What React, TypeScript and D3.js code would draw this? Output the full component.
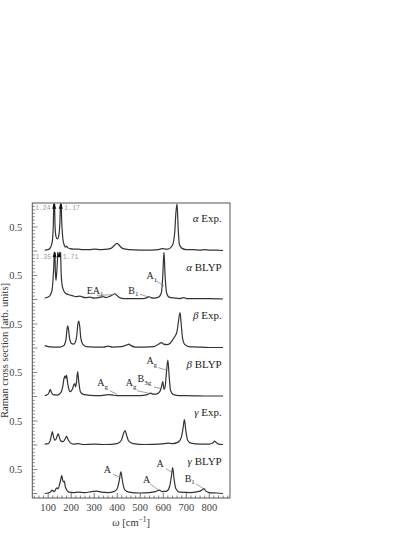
import React from "react";
import * as d3 from "d3";

type Pt = [number, number];

const panelNames = ["α|Exp.", "α|BLYP", "β|Exp.", "β|BLYP", "γ|Exp.", "γ|BLYP"];

const alphaExp: Pt[] = [
  [85, 0.02], [100, 0.03], [110, 0.07], [118, 0.2], [122, 0.5], [126, 1.24], [130, 0.5], [134, 0.3],
  [140, 0.25], [146, 0.32], [151, 0.6], [155, 1.17], [159, 0.6], [164, 0.25], [170, 0.12], [176, 0.08],
  [180, 0.1], [185, 0.07], [195, 0.05], [210, 0.04], [230, 0.04], [250, 0.03], [280, 0.03], [300, 0.04],
  [330, 0.03], [360, 0.04], [375, 0.06], [388, 0.12], [400, 0.16], [410, 0.11], [425, 0.05], [450, 0.03],
  [500, 0.02], [550, 0.02], [580, 0.03], [595, 0.05], [600, 0.05], [605, 0.04], [620, 0.04], [640, 0.12],
  [650, 0.4], [655, 0.8], [660, 0.98], [665, 0.45], [670, 0.14], [680, 0.06], [700, 0.03], [730, 0.03],
  [760, 0.02], [780, 0.03], [800, 0.02], [830, 0.02], [860, 0.01],
];

const alphaBlyp: Pt[] = [
  [85, 0.03], [100, 0.05], [110, 0.1], [117, 0.2], [122, 0.5], [126, 0.9], [128, 1.35], [131, 0.6],
  [134, 0.4], [137, 0.55], [141, 0.9], [144, 1.5], [148, 1.71], [150, 1.6], [153, 1.2], [156, 0.6],
  [160, 0.32], [166, 0.2], [175, 0.13], [190, 0.1], [205, 0.08], [220, 0.06], [238, 0.07], [250, 0.05],
  [265, 0.04], [280, 0.05], [300, 0.03], [320, 0.04], [339, 0.06], [350, 0.04], [370, 0.07], [385, 0.11],
  [391, 0.12], [397, 0.09], [410, 0.04], [430, 0.02], [470, 0.02], [510, 0.02], [530, 0.04], [538, 0.06],
  [546, 0.04], [560, 0.03], [580, 0.05], [592, 0.15], [598, 0.5], [603, 1.0], [608, 0.5], [614, 0.15],
  [625, 0.05], [650, 0.03], [670, 0.02], [690, 0.04], [700, 0.02], [750, 0.02], [800, 0.02], [860, 0.01],
];

const betaExp: Pt[] = [
  [85, 0.05], [100, 0.03], [120, 0.02], [150, 0.02], [165, 0.04], [172, 0.08], [178, 0.2], [182, 0.4],
  [185, 0.46], [188, 0.4], [193, 0.2], [200, 0.1], [210, 0.08], [218, 0.12], [224, 0.25], [229, 0.5],
  [233, 0.56], [237, 0.45], [242, 0.2], [250, 0.08], [265, 0.03], [300, 0.02], [340, 0.02], [361, 0.04],
  [380, 0.02], [420, 0.03], [440, 0.06], [450, 0.08], [460, 0.05], [480, 0.02], [520, 0.02], [560, 0.03],
  [580, 0.08], [592, 0.11], [602, 0.08], [615, 0.07], [630, 0.1], [645, 0.2], [652, 0.25], [660, 0.35],
  [666, 0.55], [673, 0.74], [678, 0.5], [684, 0.2], [692, 0.08], [710, 0.03], [750, 0.02], [800, 0.01],
  [860, 0.01],
];

const betaBlyp: Pt[] = [
  [85, 0.02], [100, 0.05], [105, 0.1], [109, 0.15], [113, 0.1], [120, 0.04], [140, 0.03], [155, 0.08],
  [163, 0.2], [169, 0.38], [173, 0.43], [176, 0.38], [180, 0.44], [184, 0.3], [190, 0.15], [195, 0.1],
  [205, 0.15], [211, 0.24], [215, 0.27], [219, 0.2], [223, 0.3], [228, 0.52], [233, 0.3], [240, 0.1],
  [250, 0.05], [270, 0.03], [300, 0.02], [330, 0.02], [361, 0.04], [380, 0.03], [400, 0.02], [440, 0.02],
  [500, 0.02], [530, 0.04], [545, 0.07], [555, 0.05], [570, 0.05], [585, 0.1], [592, 0.2], [598, 0.31],
  [603, 0.15], [608, 0.2], [613, 0.45], [620, 0.76], [626, 0.4], [632, 0.12], [645, 0.04], [670, 0.02],
  [700, 0.02], [800, 0.01], [860, 0.01],
];

const gammaExp: Pt[] = [
  [85, 0.02], [100, 0.03], [108, 0.08], [114, 0.2], [118, 0.28], [122, 0.2], [128, 0.1], [134, 0.12],
  [140, 0.2], [144, 0.23], [148, 0.17], [155, 0.08], [165, 0.07], [173, 0.12], [180, 0.18], [186, 0.12],
  [195, 0.05], [210, 0.02], [231, 0.03], [250, 0.01], [300, 0.02], [350, 0.01], [400, 0.03], [418, 0.1],
  [426, 0.22], [434, 0.3], [441, 0.2], [450, 0.08], [470, 0.03], [520, 0.01], [580, 0.02], [605, 0.03],
  [622, 0.04], [640, 0.03], [665, 0.06], [678, 0.15], [686, 0.35], [692, 0.53], [698, 0.3], [706, 0.1],
  [720, 0.04], [760, 0.02], [800, 0.02], [815, 0.04], [823, 0.08], [830, 0.05], [840, 0.02], [860, 0.01],
];

const gammaBlyp: Pt[] = [
  [85, 0.0], [100, 0.01], [110, 0.03], [118, 0.07], [124, 0.04], [130, 0.06], [137, 0.12], [143, 0.1],
  [150, 0.2], [155, 0.3], [159, 0.38], [163, 0.28], [167, 0.24], [170, 0.26], [174, 0.15], [180, 0.08],
  [190, 0.03], [210, 0.02], [230, 0.03], [260, 0.02], [290, 0.04], [311, 0.05], [330, 0.03], [360, 0.02],
  [385, 0.04], [400, 0.1], [408, 0.25], [416, 0.45], [423, 0.25], [432, 0.08], [450, 0.03], [500, 0.01],
  [540, 0.02], [565, 0.04], [583, 0.07], [595, 0.04], [615, 0.05], [628, 0.15], [635, 0.35], [641, 0.54],
  [647, 0.3], [655, 0.1], [670, 0.03], [720, 0.02], [760, 0.05], [770, 0.08], [777, 0.1], [785, 0.05],
  [800, 0.02], [830, 0.01], [860, 0.0],
];

const seriesList: Pt[][] = [alphaExp, alphaBlyp, betaExp, betaBlyp, gammaExp, gammaBlyp];

const xTickValues = [100, 200, 300, 400, 500, 600, 700, 800];

// clipped-peak markers: panel, x (cm^-1), true value, label side
const clippedPeaks = [
  { panel: 0, x: 126, value: "1.24", side: "left" },
  { panel: 0, x: 155, value: "1.17", side: "right" },
  { panel: 1, x: 128, value: "1.35", side: "left" },
  { panel: 1, x: 148, value: "1.71", side: "right" },
];

// mode annotations: text, subscript, text position, leader from/to (data units)
const modeLabels = [
  { panel: 1, main: "A", sub: "1", tx: 551, ty: 0.42, x1: 572, y1: 0.38, x2: 603, y2: 0.28 },
  { panel: 1, main: "EA", sub: "1", tx: 304, ty: 0.12, x1: 311, y1: 0.09, x2: 338, y2: 0.05 },
  { panel: 1, main: "", sub: "", tx: 0, ty: 0, x1: 322, y1: 0.09, x2: 384, y2: 0.1 },
  { panel: 1, main: "B", sub: "1", tx: 470, ty: 0.12, x1: 499, y1: 0.11, x2: 537, y2: 0.05 },
  { panel: 3, main: "A", sub: "g", tx: 550, ty: 0.67, x1: 579, y1: 0.6, x2: 615, y2: 0.55 },
  { panel: 3, main: "A", sub: "g", tx: 337, ty: 0.21, x1: 369, y1: 0.12, x2: 400, y2: 0.04 },
  { panel: 3, main: "A", sub: "g", tx: 460, ty: 0.21, x1: 486, y1: 0.12, x2: 537, y2: 0.07 },
  { panel: 3, main: "B", sub: "3g", tx: 518, ty: 0.3, x1: 560, y1: 0.2, x2: 593, y2: 0.16 },
  { panel: 5, main: "A", sub: "", tx: 357, ty: 0.43, x1: 382, y1: 0.4, x2: 414, y2: 0.33 },
  { panel: 5, main: "A", sub: "", tx: 528, ty: 0.22, x1: 543, y1: 0.2, x2: 577, y2: 0.08 },
  { panel: 5, main: "A", sub: "", tx: 586, ty: 0.55, x1: 612, y1: 0.52, x2: 636, y2: 0.44 },
  { panel: 5, main: "B", sub: "1", tx: 715, ty: 0.24, x1: 742, y1: 0.2, x2: 775, y2: 0.1 },
];

const W = 415;
const H = 537;
const frameLeft = 32.3;
const frameRight = 230;
const frameTop = 203;
const frameBottom = 498;
const firstBase = 251;
const panelStep = 48.5;
const unitPx = 48;

const serif = "'Liberation Serif', 'DejaVu Serif', serif";
const mono = "'Liberation Mono', 'DejaVu Sans Mono', monospace";

export default function App() {
  const x = d3.scaleLinear().domain([31, 890]).range([frameLeft, frameRight]);
  const yScales = panelNames.map((_, i) => {
    const base = firstBase + i * panelStep;
    return d3.scaleLinear().domain([0, 1]).range([base, base - unitPx]);
  });

  const minorX = d3.range(40, 890, 20).filter((v) => v % 100 !== 0);
  const minorY = d3.range(0, 1.0, 1 / 14);

  return (
    <svg width={W} height={H} style={{ display: "block", position: "absolute", left: 0, top: 0 }}>
      <defs>
        {panelNames.map((_, i) => {
          const y = yScales[i];
          return (
            <clipPath id={`clip${i}`} key={i}>
              <rect x={frameLeft} y={y(0.985)} width={frameRight - frameLeft} height={y(-0.2) - y(0.985)} />
            </clipPath>
          );
        })}
      </defs>

      {/* spectra */}
      {seriesList.map((data, i) => {
        const y = yScales[i];
        const line = d3
          .line<Pt>()
          .x((d) => x(d[0]))
          .y((d) => y(d[1]))
          .curve(d3.curveMonotoneX);
        return (
          <path
            key={i}
            d={line(data) || ""}
            fill="none"
            stroke="#333"
            strokeWidth={1.2}
            clipPath={`url(#clip${i})`}
          />
        );
      })}

      {/* clipped peak arrows & values */}
      {clippedPeaks.map((c, k) => {
        const y = yScales[c.panel];
        const px = x(c.x);
        const top = y(0.985);
        return (
          <g key={k}>
            <path d={`M${px - 2},${top + 5} L${px},${top - 1} L${px + 2},${top + 5} Z`} fill="#111" />
            <text
              x={c.side === "left" ? px - 3.5 : px + 3.5}
              y={top + 6.5}
              fontFamily={mono}
              fontSize={6.5}
              fill="#999"
              textAnchor={c.side === "left" ? "end" : "start"}
            >
              {c.value}
            </text>
          </g>
        );
      })}

      {/* mode labels */}
      {modeLabels.map((m, k) => {
        const y = yScales[m.panel];
        return (
          <g key={k}>
            <line x1={x(m.x1)} y1={y(m.y1)} x2={x(m.x2)} y2={y(m.y2)} stroke="#777" strokeWidth={0.7} />
            {m.main && (
              <text x={x(m.tx)} y={y(m.ty)} fontFamily={serif} fontSize={10} fill="#222" textAnchor="middle">
                {m.main}
                {m.sub && (
                  <tspan dy={2.5} fontSize={7}>
                    {m.sub}
                  </tspan>
                )}
              </text>
            )}
          </g>
        );
      })}

      {/* panel names */}
      {panelNames.map((n, i) => {
        const [g, rest] = n.split("|");
        return (
          <text
            key={i}
            x={x(854)}
            y={yScales[i](0.6)}
            fontFamily={serif}
            fontSize={11}
            fill="#222"
            textAnchor="end"
          >
            <tspan fontStyle="italic">{g}</tspan>
            {" " + rest}
          </text>
        );
      })}

      {/* frame */}
      <rect
        x={frameLeft}
        y={frameTop}
        width={frameRight - frameLeft}
        height={frameBottom - frameTop}
        fill="none"
        stroke="#555"
        strokeWidth={1}
      />

      {/* x ticks */}
      {xTickValues.map((v) => (
        <g key={v}>
          <line x1={x(v)} x2={x(v)} y1={frameBottom} y2={frameBottom - 5} stroke="#555" strokeWidth={0.8} />
          <text x={x(v)} y={frameBottom + 13} fontFamily={serif} fontSize={10.5} fill="#444" textAnchor="middle">
            {v}
          </text>
        </g>
      ))}
      {minorX.map((v) => (
        <line key={v} x1={x(v)} x2={x(v)} y1={frameBottom} y2={frameBottom - 2.5} stroke="#555" strokeWidth={0.7} />
      ))}

      {/* y ticks */}
      {yScales.map((y, i) => (
        <g key={i}>
          {minorY.map((v, j) => (
            <line
              key={j}
              x1={frameLeft}
              x2={frameLeft + (j === 0 || j === 7 ? 5 : 2.5)}
              y1={y(v)}
              y2={y(v)}
              stroke="#555"
              strokeWidth={0.7}
            />
          ))}
          <text x={frameLeft - 10} y={y(0.5) + 3.5} fontFamily={serif} fontSize={10.5} fill="#444" textAnchor="end">
            0.5
          </text>
        </g>
      ))}

      {/* axis titles */}
      <text
        transform={`translate(8, ${(frameTop + frameBottom) / 2}) rotate(-90)`}
        fontFamily={serif}
        fontSize={10.5}
        fill="#333"
        textAnchor="middle"
      >
        Raman cross section [arb. units]
      </text>
      <text x={(frameLeft + frameRight) / 2} y={526} fontFamily={serif} fontSize={10.5} fill="#333" textAnchor="middle">
        <tspan fontStyle="italic">ω</tspan> [cm
        <tspan dy={-4} fontSize={7.5}>
          −1
        </tspan>
        <tspan dy={4}>]</tspan>
      </text>
    </svg>
  );
}
